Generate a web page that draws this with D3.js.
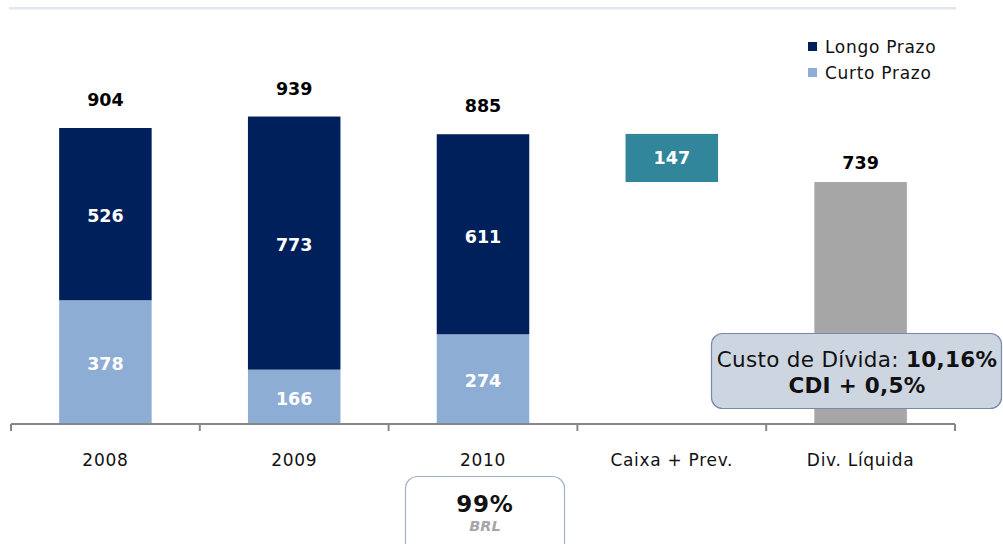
<!DOCTYPE html>
<html>
<head>
<meta charset="utf-8">
<script src="https://cdn.jsdelivr.net/npm/d3@7"></script>
<style>
  body { margin: 0; background: #fff; }
  svg { font-family: "DejaVu Sans", Verdana, sans-serif; }
</style>
</head>
<body>
<script>
const categories = ['2008', '2009', '2010', 'Caixa + Prev.', 'Div. Líquida'];
const years = ['2008', '2009', '2010'];
const longoPrazo = [526, 773, 611];
const curtoPrazo = [378, 166, 274];
const totais = [904, 939, 885];
const caixa = 147;
const divLiquida = 739;
const legendLabels = ['Longo Prazo', 'Curto Prazo'];

const w = 1003,
      h = 544,
      baseY = 424;

const colors = { longo: '#00205b', curto: '#8dadd5', caixa: '#31869b', liquida: '#a6a6a6' };

const svg = d3.select('body')
            .append('svg')
            .attr('width', w)
            .attr('height', h);

// top rule
svg.append('rect')
    .attr('x', 9).attr('y', 7).attr('width', 947).attr('height', 2.5)
    .attr('fill', '#e2e7ec');

const xScale = d3.scaleBand()
                .domain(categories)
                .range([11, 955])
                .paddingInner(0.51)
                .paddingOuter(0.255);

const yScale = d3.scaleLinear()
                .domain([0, 904])
                .range([baseY, 128]);

const bw = xScale.bandwidth();

// stacked years
const stackData = years.map((y, i) => ({ cat: y, curto: curtoPrazo[i], longo: longoPrazo[i], total: totais[i] }));

svg.selectAll('rect.curto')
    .data(stackData)
    .enter()
    .append('rect')
    .attr('class', 'curto')
    .attr('x', d => xScale(d.cat))
    .attr('y', d => yScale(d.curto))
    .attr('width', bw)
    .attr('height', d => yScale(0) - yScale(d.curto))
    .attr('fill', colors.curto);

svg.selectAll('rect.longo')
    .data(stackData)
    .enter()
    .append('rect')
    .attr('class', 'longo')
    .attr('x', d => xScale(d.cat))
    .attr('y', d => yScale(d.curto + d.longo))
    .attr('width', bw)
    .attr('height', d => yScale(d.curto) - yScale(d.curto + d.longo))
    .attr('fill', colors.longo);

// caixa floating bar and div liquida
svg.append('rect')
    .attr('x', xScale('Caixa + Prev.'))
    .attr('y', yScale(divLiquida + caixa))
    .attr('width', bw)
    .attr('height', yScale(divLiquida) - yScale(divLiquida + caixa))
    .attr('fill', colors.caixa);

svg.append('rect')
    .attr('x', xScale('Div. Líquida'))
    .attr('y', yScale(divLiquida))
    .attr('width', bw)
    .attr('height', yScale(0) - yScale(divLiquida))
    .attr('fill', colors.liquida);

// segment labels
const segLabel = (x, y, t) => svg.append('text')
    .attr('x', x).attr('y', y).attr('dy', '0.36em')
    .attr('text-anchor', 'middle')
    .attr('font-size', 17.5).attr('font-weight', 'bold')
    .attr('fill', '#fff')
    .text(t);

stackData.forEach(d => {
    const cx = xScale(d.cat) + bw / 2;
    segLabel(cx, (yScale(0) + yScale(d.curto)) / 2 + 2, d.curto);
    segLabel(cx, (yScale(d.curto) + yScale(d.curto + d.longo)) / 2 + 2, d.longo);
    svg.append('text')
        .attr('x', cx).attr('y', yScale(d.total) - 22)
        .attr('text-anchor', 'middle')
        .attr('font-size', 17.5).attr('font-weight', 'bold')
        .attr('fill', '#000')
        .text(d.total);
});

segLabel(xScale('Caixa + Prev.') + bw / 2, (yScale(divLiquida) + yScale(divLiquida + caixa)) / 2, caixa);

svg.append('text')
    .attr('x', xScale('Div. Líquida') + bw / 2).attr('y', yScale(divLiquida) - 13)
    .attr('text-anchor', 'middle')
    .attr('font-size', 17.5).attr('font-weight', 'bold')
    .attr('fill', '#000')
    .text(divLiquida);

// axis
const axisScale = d3.scalePoint().domain(d3.range(categories.length + 1)).range([11, 955]);
const axis = svg.append('g');
axis.append('line')
    .attr('x1', 11).attr('x2', 955).attr('y1', baseY).attr('y2', baseY)
    .attr('stroke', '#878787').attr('stroke-width', 2);
axis.selectAll('line.tick')
    .data(axisScale.domain())
    .enter()
    .append('line')
    .attr('x1', d => axisScale(d)).attr('x2', d => axisScale(d))
    .attr('y1', baseY).attr('y2', baseY + 7)
    .attr('stroke', '#878787').attr('stroke-width', 2);
axis.selectAll('text')
    .data(categories)
    .enter()
    .append('text')
    .attr('x', d => xScale(d) + bw / 2)
    .attr('y', 466)
    .attr('text-anchor', 'middle')
    .attr('font-size', 17).attr('letter-spacing', 0.7)
    .attr('fill', '#111')
    .text(d => d);

// legend
const legend = svg.append('g');
const legendColors = [colors.longo, colors.curto];
legendLabels.forEach((l, i) => {
    legend.append('rect')
        .attr('x', 808).attr('y', 42 + i * 26).attr('width', 9).attr('height', 9)
        .attr('fill', legendColors[i]);
    legend.append('text')
        .attr('x', 825).attr('y', 47 + i * 26).attr('dy', '0.36em')
        .attr('font-size', 17).attr('letter-spacing', 0.7).attr('fill', '#111')
        .text(l);
});

// cost callout
svg.append('rect')
    .attr('x', 711.5).attr('y', 333.5).attr('width', 290).attr('height', 75)
    .attr('rx', 11)
    .attr('fill', '#cdd5e1').attr('stroke', '#7889aa').attr('stroke-width', 1.2);
const c1 = svg.append('text')
    .attr('x', 857).attr('y', 367)
    .attr('text-anchor', 'middle')
    .attr('font-size', 21.5).attr('letter-spacing', 0.3).attr('fill', '#111');
c1.append('tspan').text('Custo de Dívida: ');
c1.append('tspan').attr('font-weight', 'bold').text('10,16%');
svg.append('text')
    .attr('x', 857).attr('y', 393)
    .attr('text-anchor', 'middle')
    .attr('font-size', 21.5).attr('letter-spacing', 0.3).attr('font-weight', 'bold').attr('fill', '#111')
    .text('CDI + 0,5%');

// BRL box
svg.append('rect')
    .attr('x', 405.5).attr('y', 476.5).attr('width', 159).attr('height', 80)
    .attr('rx', 12)
    .attr('fill', '#fff').attr('stroke', '#a4b0c8').attr('stroke-width', 1.2);
svg.append('text')
    .attr('x', 485).attr('y', 512)
    .attr('text-anchor', 'middle')
    .attr('font-size', 23).attr('letter-spacing', 0.8).attr('font-weight', 'bold').attr('fill', '#111')
    .text('99%');
svg.append('text')
    .attr('x', 485).attr('y', 531)
    .attr('text-anchor', 'middle')
    .attr('font-size', 14.5).attr('font-weight', 'bold').attr('font-style', 'italic')
    .attr('fill', '#a6a6a6')
    .text('BRL');
</script>
</body>
</html>
